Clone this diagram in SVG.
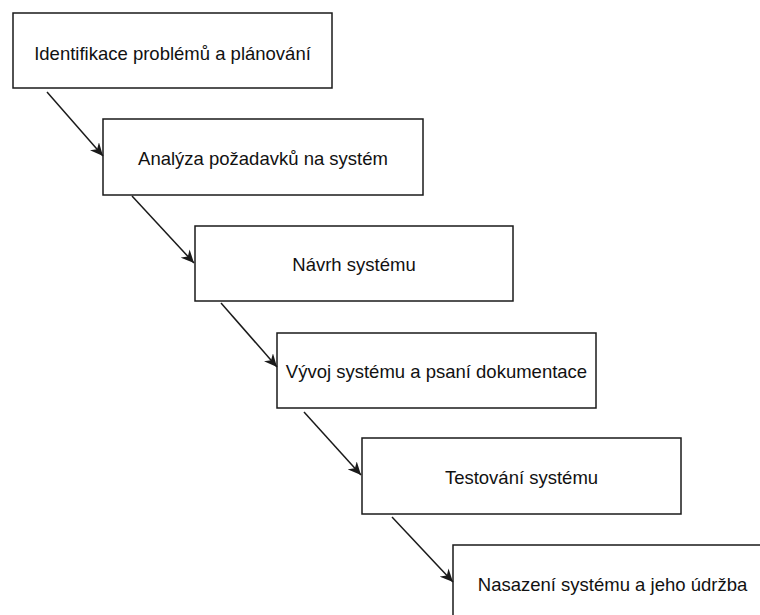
<svg xmlns="http://www.w3.org/2000/svg" width="760" height="615" viewBox="0 0 760 615">
<style>
.box{fill:#fff;stroke:#1a1a1a;stroke-width:1.5}
.lbl{font-family:"Liberation Sans",Arial,sans-serif;font-size:18.5px;fill:#111;text-anchor:middle}
.edge{stroke:#1a1a1a;stroke-width:1.5;fill:none;marker-end:url(#arr)}
</style>
<defs>
<marker id="arr" markerUnits="userSpaceOnUse" markerWidth="14" markerHeight="12" viewBox="0 0 14 12" refX="13" refY="6" orient="auto">
<path d="M0,0 L13,6 L0,12 L4,6 z" fill="#1a1a1a"/>
</marker>
</defs>
<rect width="760" height="615" fill="#fff"/>
<g id="n1"><rect class="box" x="13" y="13" width="319" height="75"/><text class="lbl" x="172.5" y="59.5">Identifikace problémů a plánování</text></g>
<g id="n2"><rect class="box" x="103" y="119" width="320" height="76"/><text class="lbl" x="263" y="164.5">Analýza požadavků na systém</text></g>
<g id="n3"><rect class="box" x="195" y="226" width="318" height="75"/><text class="lbl" x="354" y="271">Návrh systému</text></g>
<g id="n4"><rect class="box" x="277" y="333" width="319" height="75"/><text class="lbl" x="436.5" y="377.5">Vývoj systému a psaní dokumentace</text></g>
<g id="n5"><rect class="box" x="362" y="438" width="319" height="76"/><text class="lbl" x="521.5" y="484">Testování systému</text></g>
<g id="n6"><rect class="box" x="453" y="545" width="319" height="76"/><text class="lbl" x="612.5" y="590.5">Nasazení systému a jeho údržba</text></g>
<g id="edges">
<line class="edge" x1="47" y1="92" x2="103" y2="156"/>
<line class="edge" x1="132" y1="196" x2="194" y2="263"/>
<line class="edge" x1="221" y1="303" x2="277" y2="367"/>
<line class="edge" x1="304" y1="412" x2="361" y2="475"/>
<line class="edge" x1="392" y1="517" x2="453" y2="582"/>
</g>
</svg>
